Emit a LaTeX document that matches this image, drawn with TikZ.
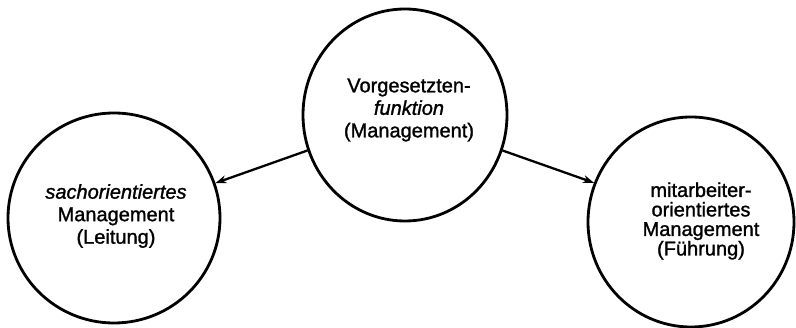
\documentclass[tikz,border=0pt]{standalone}
\usepackage{fontspec}
\setmainfont{Liberation Sans}[FakeBold=1.2]
\newfontfamily\lblfont{Liberation Sans}[UprightFeatures={FakeBold=1.3},ItalicFeatures={FakeBold=1.3}]
\usetikzlibrary{shapes.geometric,arrows.meta}
\begin{document}
\begin{tikzpicture}[x=1pt,y=-1pt,
  bubble/.style={draw,ellipse,line width=2.8pt,inner sep=0pt},
  lbl/.style={align=center,font=\lblfont\fontsize{20}{22.5}\selectfont,inner sep=0pt},
  conn/.style={line width=2.3pt,-{Stealth[length=11pt,width=8pt]}}]
\useasboundingbox (0,0) rectangle (796,328);
\node[bubble,minimum width=204pt,minimum height=212pt] (c) at (405,115) {};
\node[bubble,minimum width=212pt,minimum height=210pt] (l) at (114,218) {};
\node[bubble,minimum width=206pt,minimum height=210pt] (r) at (691,222) {};
\node[lbl] (ct) at (409,110) {Vorgesetzten-\\\textit{funktion}\\(Management)};
\node[lbl] (lt) at (116,216) {\textit{sachorientiertes}\\Management\\(Leitung)};
\node[lbl,font=\lblfont\fontsize{20}{19.5}\selectfont] (rt) at (701,221) {mitarbeiter-\\orientiertes\\Management\\(Führung)};
\draw[conn] (c.200) -- (l.19.6);
\draw[conn] (c.340) -- (r.158.5);
\end{tikzpicture}
\end{document}
